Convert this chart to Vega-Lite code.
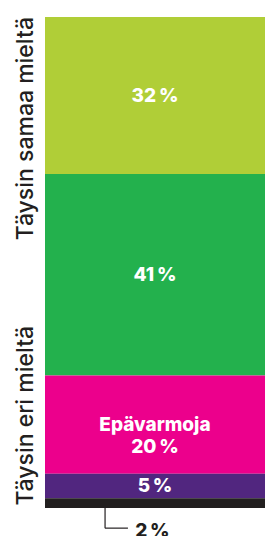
{
  "$schema": "https://vega.github.io/schema/vega-lite/v6.json",
  "width": 271,
  "height": 536,
  "padding": 0,
  "autosize": {"type": "none"},
  "background": "white",
  "config": {"view": {"stroke": null}},
  "data": {
    "values": [
      {"category": "Täysin samaa mieltä", "label": "32\u2009%", "value": 32, "order": 5},
      {"category": "Samaa mieltä", "label": "41\u2009%", "value": 41, "order": 4},
      {"category": "Epävarmoja", "label": "Epävarmoja\n20\u2009%", "value": 20, "order": 3},
      {"category": "Eri mieltä", "label": "5\u2009%", "value": 5, "order": 2},
      {"category": "Täysin eri mieltä", "label": "2\u2009%", "value": 2, "order": 1}
    ]
  },
  "layer": [
    {
      "transform": [
        {"stack": "value", "groupby": [], "sort": [{"field": "order"}], "as": ["y0", "y1"]}
      ],
      "mark": {"type": "rect"},
      "encoding": {
        "x": {"datum": 0, "type": "quantitative", "scale": {"domain": [0, 100], "range": [45, 265]}, "axis": null},
        "x2": {"datum": 100},
        "y": {"field": "y0", "type": "quantitative", "scale": {"domain": [0, 100], "range": [508, 17]}, "axis": null},
        "y2": {"field": "y1"},
        "color": {
          "field": "category",
          "type": "nominal",
          "scale": {
            "domain": ["Täysin samaa mieltä", "Samaa mieltä", "Epävarmoja", "Eri mieltä", "Täysin eri mieltä"],
            "range": ["#B0CE37", "#23B14D", "#EC008C", "#51267F", "#221F1F"]
          },
          "legend": null
        }
      }
    },
    {
      "transform": [
        {"stack": "value", "groupby": [], "sort": [{"field": "order"}], "as": ["y0", "y1"]},
        {"calculate": "(datum.y0 + datum.y1) / 2", "as": "ymid"},
        {"filter": "datum.order > 1"}
      ],
      "mark": {"type": "text", "font": "Inter", "fontWeight": 800, "fontSize": 19, "color": "white", "baseline": "middle", "align": "center", "lineBreak": "\n", "lineHeight": 22},
      "encoding": {
        "x": {"datum": 50, "type": "quantitative"},
        "y": {"field": "ymid", "type": "quantitative"},
        "text": {"field": "label"}
      }
    },
    {
      "transform": [{"filter": "datum.order == 1"}],
      "mark": {"type": "text", "font": "Inter", "fontWeight": 800, "fontSize": 19, "color": "#231F20", "baseline": "middle", "align": "left"},
      "encoding": {
        "x": {"datum": 41, "type": "quantitative"},
        "y": {"datum": -4.7, "type": "quantitative"},
        "text": {"field": "label"}
      }
    },
    {
      "transform": [{"filter": "datum.order == 1"}],
      "mark": {"type": "rule", "color": "#231F20", "strokeWidth": 1.2},
      "encoding": {
        "x": {"datum": 27.3, "type": "quantitative"},
        "y": {"datum": 0, "type": "quantitative"},
        "y2": {"datum": -4.1}
      }
    },
    {
      "transform": [{"filter": "datum.order == 1"}],
      "mark": {"type": "rule", "color": "#231F20", "strokeWidth": 1.2},
      "encoding": {
        "x": {"datum": 27.3, "type": "quantitative"},
        "x2": {"datum": 37.7},
        "y": {"datum": -4.1, "type": "quantitative"}
      }
    },
    {
      "transform": [{"filter": "datum.order == 1"}],
      "mark": {"type": "text", "font": "Inter", "fontWeight": 500, "fontSize": 23, "color": "#231F20", "angle": 270, "align": "right", "baseline": "alphabetic"},
      "encoding": {
        "x": {"datum": -5.5, "type": "quantitative"},
        "y": {"datum": 100, "type": "quantitative"},
        "text": {"value": "Täysin samaa mieltä"}
      }
    },
    {
      "transform": [{"filter": "datum.order == 1"}],
      "mark": {"type": "text", "font": "Inter", "fontWeight": 500, "fontSize": 23, "color": "#231F20", "angle": 270, "align": "left", "baseline": "alphabetic"},
      "encoding": {
        "x": {"datum": -5.5, "type": "quantitative"},
        "y": {"datum": 0.5, "type": "quantitative"},
        "text": {"value": "Täysin eri mieltä"}
      }
    }
  ]
}
